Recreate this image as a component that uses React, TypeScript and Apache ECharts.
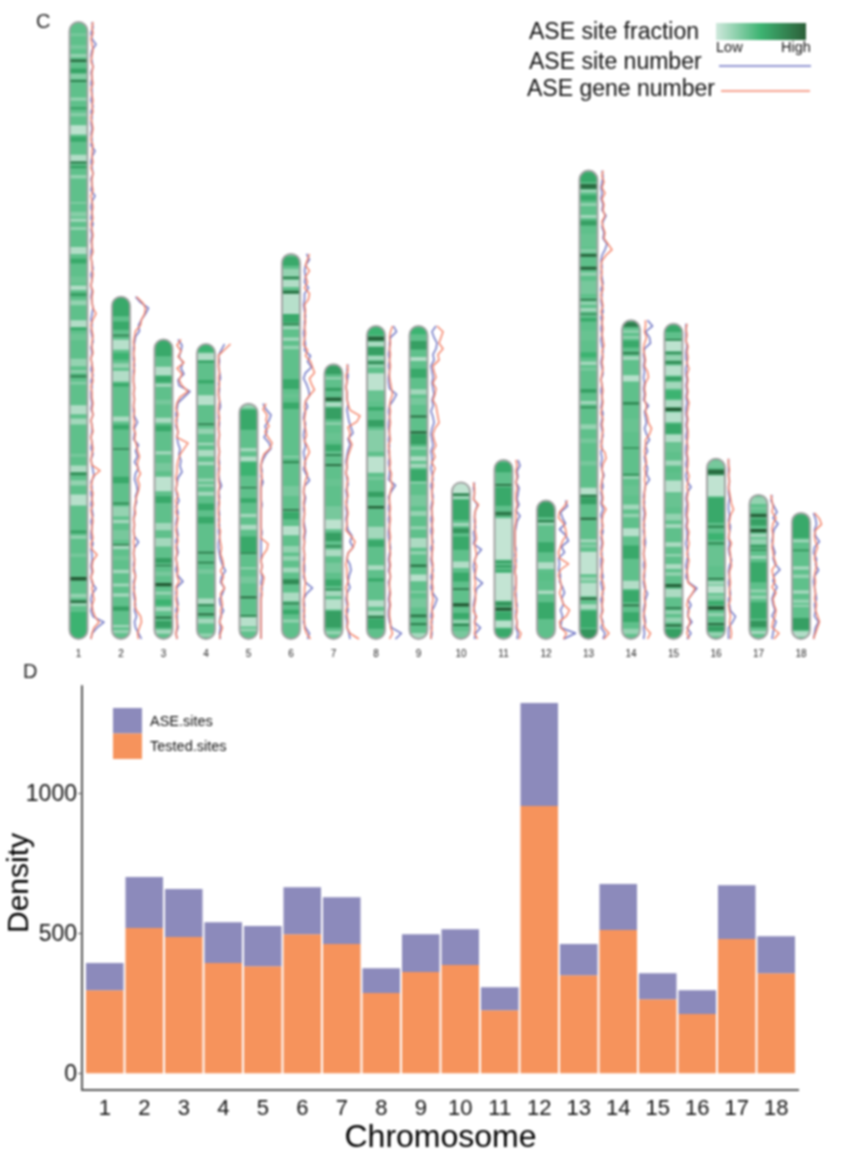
import React, { useEffect, useRef } from "react";
import * as echarts from "echarts";

const chromosomes = ["1","2","3","4","5","6","7","8","9","10","11","12","13","14","15","16","17","18"];
// chromosome lengths, Mb
const lengths = [274,152,133,131,104.5,171,122,139,139,69.5,79.5,61.5,208,141.5,140,80,64,56];

// D panel
const testedSites = [296,518,486,393,382,496,461,286,361,386,225,954,350,511,264,211,479,357];
const aseSites = [97,182,171,146,143,168,167,89,135,128,82,367,111,164,93,85,192,132];

// bands per chromosome: [start Mb from the top, end Mb, ASE site fraction 0..1]
type Band = number[];
const bands1: Band[] = [[5,6.3,.3],[10.2,12,.3],[14.2,15.7,.2],[16.6,17.8,.85],[20.6,22.8,.58],[23,25.2,.25],[25.8,26.7,.75],[33.5,35,.2],[37.9,38.8,.6],[40.3,42,.25],[45.8,50,.06],[51,53.2,.55],[59,61.8,.1],[62,62.8,.8],[63.8,65,.6],[68,69.5,.2],[80,80.6,.2],[84.3,86.5,.25],[87.3,88.7,.15],[91,92.4,.2],[99.9,103,.1],[105,107.3,.55],[113,116,.33],[117,119,.1],[120.3,121.8,.6],[123.6,125.8,.2],[132.4,135.4,.1],[135.7,136.9,.55],[138.4,141.3,.33],[149.5,152.9,.2],[154.7,155.8,.2],[156.9,157.9,.75],[159.8,161,.25],[170.2,174.2,.1],[176.1,178.7,.15],[191.7,193.2,.3],[196.9,199.8,.12],[200.1,201.3,.7],[203.5,205.8,.2],[209.8,214.7,.08],[225.8,227,.6],[228,229.5,.2],[236,237.6,.3],[246.5,248,.95],[253.9,255.7,.2],[256.9,258,.85],[258,259.5,.2],[262,274,.5]];
const bands2: Band[] = [[0,8.7,.55],[11,14.7,.55],[16.9,17.6,.8],[19.1,23.6,.08],[25,28,.5],[29.5,31.7,.2],[32.9,37.6,.1],[38.4,39.9,.55],[53.2,55.4,.12],[56.9,59,.55],[67.3,68,.75],[79.9,82.8,.55],[91.4,92.3,.7],[93.2,97.6,.2],[99,100.6,.15],[103.6,108,.3],[109.8,110.5,.8],[110.6,112.1,.15],[115,117,.33],[121.2,122.8,.15],[127.3,128.7,.15],[131.7,133.2,.15],[137.6,139.4,.6],[145.8,146.8,.15],[148,149.5,.2]];
const bands3: Band[] = [[0,7.4,.55],[12.1,15.9,.1],[16.3,19,.55],[19.7,21,.15],[26.7,28.9,.3],[34.8,37,.12],[38.2,40.7,.55],[49.6,51.1,.15],[54.8,58.5,.3],[61,67.4,.06],[69.6,72.6,.55],[81.5,84.7,.15],[88.1,91.9,.15],[97,99.3,.6],[100,100.7,.75],[103,105,.3],[108.1,109.6,.95],[111.9,113.3,.2],[115.5,118,.5],[118.8,120.7,.15],[123,124,.8],[125,128,.6],[128.9,130.7,.15]];
const bands4: Band[] = [[.4,3.4,.5],[4.1,7.1,.1],[7.4,8.3,.6],[16,17.5,.55],[22.7,27.1,.08],[35.3,36,.8],[37.5,40,.2],[43.9,45,.15],[47.1,50,.12],[52.3,53.8,.15],[59.7,61.2,.2],[62.2,63.4,.2],[65.6,67.4,.15],[70.8,73.8,.55],[76.7,79.7,.55],[92.3,93,.8],[96.7,97.5,.75],[100,102,.3],[113,115.3,.12],[115.7,116.4,.8],[119.7,120.4,.9],[121.9,124.1,.15],[128.6,130,.2]];
const bands5: Band[] = [[.4,2,.2],[2.7,11.6,.55],[19.7,21.2,.15],[23.4,25.6,.1],[26,32,.5],[37,37.6,.8],[42,44,.55],[48.9,50.4,.15],[53.8,56,.12],[59,66.1,.55],[66.1,66.8,.75],[72.6,73.5,.2],[76.7,79.7,.3],[85.6,86.4,.9],[93.8,94.5,.8],[94.8,99,.08],[99.7,101.2,.2]];
const bands6: Band[] = [[1.3,5.3,.55],[6.7,9.8,.2],[10.2,10.9,.85],[11.6,14.7,.1],[16.4,17.6,.85],[17.8,26.7,.08],[26.7,30.4,.55],[30.9,31.5,.85],[32.2,33.4,.15],[37.1,38.6,.15],[40.8,42.3,.2],[55.6,60,.55],[62,64,.35],[66,68.9,.55],[89.7,90.4,.2],[91.9,92.9,.7],[103,107.5,.3],[113.4,114.1,.85],[114.6,117.8,.55],[120.8,124.9,.08],[129.7,132.6,.2],[134.1,136.3,.2],[139.3,141.5,.15],[144.5,146.7,.7],[150.4,154.1,.12],[154.9,155.6,.8],[158,160,.55],[162.3,163.7,.2]];
const bands7: Band[] = [[.7,4.4,.6],[5.9,6.7,.15],[10.4,11.9,.6],[14.8,16.3,.9],[17,18.8,.1],[19.3,24.4,.6],[25.9,26.8,.2],[30.4,34,.35],[35.6,38.5,.55],[40,40.7,.75],[44.4,45.2,.9],[51,54,.35],[63,68.9,.3],[68.9,73.3,.06],[74.8,78.5,.6],[80.4,81.3,.7],[82.2,85.2,.12],[88.1,92.6,.3],[95.6,98.5,.55],[99.7,100.3,.7],[100.7,103,.15],[104.4,108.9,.08],[109.6,117,.6],[118.5,120,.2]];
const bands8: Band[] = [[.3,4,.5],[4.7,6.5,.9],[7,9.2,.12],[9.2,12.9,.6],[13.3,15.1,.15],[15.9,16.6,.8],[17.3,18.4,.2],[21,28.7,.06],[29.2,33.6,.35],[36,37.5,.55],[41.8,44.7,.6],[46.2,55.9,.25],[58,65.2,.06],[67,68.4,.3],[73.6,75.9,.6],[79.9,81,.9],[89.2,94.4,.15],[95.1,98,.55],[106.2,108.4,.12],[112,113.5,.55],[121.8,124.7,.1],[126.5,128.4,.15],[128.9,129.6,.9],[130,134.4,.55]];
const bands9: Band[] = [[.7,3.7,.5],[6.7,10.4,.6],[13.8,15.6,.1],[19,23,.55],[28.1,30.4,.15],[32,35,.3],[39.7,40.6,.85],[46.7,47.7,.9],[48.1,52.6,.6],[53.8,54.8,.2],[57.8,60,.12],[61.2,63,.15],[63.7,68.9,.55],[69.2,70,.2],[75,80,.3],[82.2,84.4,.2],[88.9,90.4,.2],[94.1,98.5,.12],[100,101.5,.2],[105.9,107,.8],[110.4,113.3,.08],[117.8,118.5,.2],[121,125,.3],[128.1,129.3,.8],[131.9,132.9,.75],[136.3,139,.15]];
const bands10: Band[] = [[0,4.7,.05],[5,5.8,.85],[6.2,7.3,.15],[7.7,16.6,.55],[18,19.3,.15],[20.3,22.5,.65],[24,29.9,.55],[35.1,38,.1],[40,44,.55],[47,47.7,.8],[53.6,55.1,.95],[58,60.5,.55],[61.3,62.2,.15],[62.8,63.7,.75],[66,69,.3]];
const bands11: Band[] = [[1,5.5,.55],[10.7,11.4,.85],[12.1,20.3,.55],[23,24.7,.8],[25.9,44.3,.04],[44.7,45.8,.6],[46.7,47.7,.6],[48.7,49.6,.55],[50.2,62.5,.04],[63,64.7,.65],[65.5,67,.95],[67.4,71,.55],[71.4,74.4,.08],[75,78.5,.55]];
const bands12: Band[] = [[.7,7.4,.6],[8.6,9.6,.75],[9.9,11.1,.2],[18.5,23,.55],[27.4,30.4,.1],[32,35.5,.4],[40,41.5,.12],[45.2,52.6,.55]];
const bands13: Band[] = [[.7,5.2,.55],[5.9,8,.85],[8.6,9.6,.15],[10.8,13.3,.55],[14.5,15.7,.2],[19.7,21,.15],[22.2,24.4,.6],[28,34,.35],[34.8,36.3,.25],[37,38.2,.9],[42.7,44,.9],[45.2,46.7,.2],[48.9,54.8,.3],[57,57.6,.9],[58.2,59.6,.2],[61,62.6,.15],[63.4,64,.75],[65.5,67,.55],[71,75.6,.35],[80.7,83,.5],[84.8,86.3,.15],[87.4,88.9,.3],[97,98.6,.6],[102.3,103.7,.15],[104.8,105.5,.7],[112.6,114.9,.2],[119,121,.3],[129,131,.3],[140.8,143.7,.08],[144,144.8,.85],[145.2,148.2,.6],[154.1,155,.9],[163.7,165.2,.15],[166,167.4,.25],[169.2,179.3,.05],[180.5,182.3,.2],[183,189,.08],[189.7,190.5,.95],[192.6,194.8,.12],[195.6,203,.55],[203.7,208,.65]];
const bands14: Band[] = [[.7,3,.75],[4.4,5.5,.2],[7,8.1,.2],[9,12,.55],[14,15,.75],[15.9,17.6,.15],[24.4,27.1,.08],[36.3,37.5,.7],[43.7,49.6,.35],[56.3,57,.7],[68.1,68.9,.7],[69.2,70.4,.2],[73.3,77.8,.35],[81.8,84,.15],[85.9,87.4,.2],[92.3,95.9,.08],[100,105.9,.55],[115.6,119.3,.1],[120,125.2,.55],[126.2,127,.85],[129.6,134,.55],[137,139.3,.2]];
const bands15: Band[] = [[.7,3.7,.55],[6.8,7.4,.75],[7.7,12.1,.06],[12.7,13.3,.75],[14,16.3,.2],[16.6,17.8,.7],[18.5,23,.08],[23.7,25.2,.6],[25.9,28.9,.15],[29.6,33.3,.5],[34,37,.12],[37.3,38.8,.95],[39.3,43.7,.08],[44.4,48.9,.55],[49.2,52.6,.1],[52.6,57,.35],[60.7,63,.15],[63.7,66,.4],[69.6,74.8,.08],[75.5,81.5,.35],[84.4,87.4,.2],[88.9,90.7,.15],[97,99,.12],[102.2,103.4,.2],[106.7,108.9,.12],[110.4,111.9,.2],[115.6,117,.9],[117.8,121.5,.12],[125.9,126.7,.8],[127.4,128.9,.2],[130.4,132.6,.2],[133.6,134.5,.9],[135.6,139.3,.6]];
const bands16: Band[] = [[1,4,.3],[4.7,7,.85],[7.4,16.6,.05],[17.3,28.4,.55],[29.6,30.7,.7],[33,36,.5],[37,38,.7],[39,47.7,.35],[52.9,53.6,.85],[54.4,55.9,.15],[56.3,59.6,.06],[60.3,62.5,.25],[63.3,64.8,.55],[65.5,67,.95],[68.4,69.9,.2],[72.9,73.9,.85],[74.3,76.6,.6],[77,78.8,.2]];
const bands17: Band[] = [[1,4,.2],[5.5,6.5,.3],[8.4,9.9,.9],[10.7,13.6,.6],[15.1,16.6,.95],[17.3,18.8,.15],[19.6,21.8,.2],[22.5,23.3,.7],[24.1,24.8,.7],[27,28.4,.15],[29.9,38.8,.55],[42,43.3,.2],[44.7,46.2,.2],[47.7,55,.55],[55.9,58.8,.65],[60.3,61.8,.15]];
const bands18: Band[] = [[.7,11.1,.55],[11.9,13,.15],[16.3,17,.65],[23.7,25.2,.15],[27.4,28.9,.2],[34.4,35.9,.15],[38.5,40,.2],[40.8,41.8,.2],[46.7,51.9,.6],[52.6,55,.1]];
const allBands = [bands1,bands2,bands3,bands4,bands5,bands6,bands7,bands8,bands9,bands10,bands11,bands12,bands13,bands14,bands15,bands16,bands17,bands18];

// ASE site number along each chromosome, evenly spaced from top to bottom
const sites1 = [2,3,1,2,6,2,1,2,3,1,2,1,2,2,1,3,1,2,1,2,1,2,1,5,2,1,2,3,1,2,1,5,2,1,2,1,3,1,2,1,2,1,1,2,3,1,2,1,2,1,2,3,2,1,2,1,2,3,1,2,1,2,1,3,1,2,1,1,2,1,3,1,2,2,1,2,1,3,1,2,3,4,1,2,1,2,1,2,3,1,2,1,1,3,1,2,2,1,2,1,2,6,2,1,2,1,3,14,7,2,1];
const sites2 = [3,8,16,13,9,6,7,3,2,1,1,1,2,1,1,1,2,1,2,1,1,2,5,2,2,1,6,3,5,2,6,3,2,4,5,3,4,2,2,1,2,1,2,6,2,1,2,1,2,3,1,2,1,2,3,2,4,2,3,6,9];
const sites3 = [3,7,6,4,8,6,9,3,4,15,9,3,2,1,2,1,3,2,3,5,4,6,5,7,3,2,1,2,4,1,3,2,1,2,3,1,2,3,1,2,1,3,8,2,1,2,3,1,2,2,3,1,2];
const sites4 = [7,4,1,2,1,2,3,1,2,1,2,3,1,1,2,1,2,1,1,2,1,2,1,1,2,4,1,2,1,1,2,1,2,1,2,1,1,2,3,5,8,4,3,7,5,2,3,6,3,2,3,2,3];
const sites5 = [3,6,11,9,5,7,4,9,11,6,3,1,2,1,3,1,1,1,2,1,1,1,1,2,1,1,1,1,1,2,1,2,1,2,1,1,1,1,1,1,1,1,1];
const sites6 = [4,7,3,2,3,2,6,2,2,1,2,3,2,2,1,2,3,2,8,5,9,3,1,4,6,7,3,5,2,1,3,2,1,2,3,1,2,3,1,4,7,2,1,3,2,1,2,1,2,3,2,2,1,2,1,2,2,1,3,10,4,1,2,1,2,1,3,7,5];
const sites7 = [3,2,3,2,1,2,2,3,2,3,4,6,8,3,5,3,2,1,2,1,2,3,1,2,2,1,2,1,2,3,7,5,8,3,2,5,6,4,3,5,2,1,2,3,1,2,2,4,5];
const sites8 = [6,9,3,2,2,1,2,1,2,1,1,2,9,6,2,1,2,1,1,2,1,2,1,2,1,2,2,1,8,4,1,2,1,2,1,2,1,1,2,3,2,1,2,1,3,1,2,2,1,2,1,1,2,4,14,8];
const sites9 = [6,2,4,7,6,3,4,1,2,3,2,3,4,2,3,1,3,4,2,1,2,3,1,2,2,1,2,3,1,2,3,2,1,2,1,2,1,2,3,1,2,1,2,3,1,2,1,3,7,5,2,1,2,1,2,1];
const sites10 = [2,1,2,1,5,3,2,2,3,1,2,1,9,4,2,1,2,3,10,4,3,2,1,2,3,2,8,3,2];
const sites11 = [3,5,2,3,1,4,3,2,4,1,5,2,1,0,0,0,1,0,1,0,0,1,1,0,1,1,2,1,1,2,1,3,2];
const sites12 = [8,10,3,5,8,2,8,11,4,7,1,2,1,3,2,5,7,4,6,3,5,4,3,18,6];
const sites13 = [2,3,2,1,2,1,3,2,6,3,2,4,3,7,5,2,1,2,1,2,3,1,2,1,2,3,1,2,1,2,1,2,3,2,1,2,3,1,2,1,2,2,1,3,2,1,2,3,1,2,1,2,1,2,4,2,3,1,2,1,3,1,2,2,3,1,2,1,2,1,1,2,3,1,2,3,1,2,2,1,3,1,5,3];
const sites14 = [5,10,3,7,8,2,1,2,1,2,1,2,1,2,1,6,2,3,4,2,4,7,3,5,2,3,5,4,7,3,2,1,2,1,2,1,2,1,2,3,2,1,2,1,2,2,1,2,5,3,2,1,2,3,1,2,1];
const sites15 = [1,1,1,1,2,1,1,2,1,1,2,1,2,1,2,1,1,2,1,2,1,2,1,1,2,1,2,1,2,6,2,1,2,1,1,2,1,2,2,1,2,3,2,1,2,1,4,12,7,3,6,3,3,7,2,6,2];
const sites16 = [1,1,1,1,2,1,1,2,1,1,2,1,3,2,1,2,1,2,4,2,1,2,1,2,3,1,2,3,8,5,1,1,1];
const sites17 = [2,1,4,7,3,8,4,3,2,3,5,3,5,10,4,3,7,4,2,3,5,2,6,4,3,2];
const sites18 = [1,3,4,2,3,7,2,1,4,3,6,2,1,2,3,4,2,3,2,6,3,2,1];
const allSites = [sites1,sites2,sites3,sites4,sites5,sites6,sites7,sites8,sites9,sites10,sites11,sites12,sites13,sites14,sites15,sites16,sites17,sites18];

// ASE gene number along each chromosome
const genes1 = [3,2,3,1,2,3,2,1,3,2,2,3,1,2,3,2,3,1,2,3,2,1,3,2,2,3,1,3,2,2,3,1,2,3,2,3,1,2,3,2,2,3,1,2,2,3,2,1,3,2,2,3,6,3,1,2,3,2,2,3,1,2,3,2,3,1,2,2,3,2,3,1,2,3,1,2,3,2,1,2,10,3,2,1,3,2,3,1,2,3,2,2,3,1,2,7,3,2,3,1,3,2,3,4,2,3,5,9,4,2,1];
const genes2 = [4,10,13,12,9,8,3,2,1,2,1,2,1,2,1,1,2,1,2,1,2,1,2,1,3,2,4,5,7,5,5,8,5,7,6,4,3,2,3,1,2,1,2,1,2,1,2,2,1,3,2,1,2,3,2,4,8,9,7,5,6];
const genes3 = [6,2,6,3,9,2,7,4,7,13,5,2,1,3,1,2,3,2,13,9,5,3,2,2,1,2,1,3,1,2,1,3,2,1,2,3,1,2,1,2,3,2,4,1,2,1,2,3,1,2,2,1,2];
const genes4 = [13,7,1,1,1,2,1,2,1,1,2,1,1,2,1,1,2,1,1,2,1,1,2,1,1,2,1,1,2,1,1,2,1,3,2,3,4,3,5,6,3,6,4,7,3,4,5,3,4,2,5,3,2];
const genes5 = [6,3,7,6,9,5,8,12,10,4,2,1,1,2,1,1,1,1,1,1,1,1,1,1,1,8,7,3,1,2,1,4,3,1,2,1,1,1,1,1,1,1,1];
const genes6 = [7,5,3,7,3,5,2,7,6,2,3,2,3,2,3,2,1,5,3,8,10,12,7,9,12,7,3,2,3,2,2,3,4,2,5,7,4,2,3,5,3,2,1,2,1,2,2,1,1,2,1,2,1,2,2,1,1,2,3,2,2,1,1,2,1,2,2,4,8];
const genes7 = [2,3,1,2,1,2,2,3,5,15,12,3,5,4,7,5,3,2,2,1,3,2,2,3,1,2,3,2,2,1,6,10,8,3,2,1,2,2,3,1,2,2,3,1,2,3,2,5,14];
const genes8 = [5,3,2,3,2,3,2,3,2,2,3,4,5,3,2,3,2,3,2,2,3,1,2,2,3,2,4,3,5,3,2,2,3,2,3,2,2,3,2,2,3,2,3,2,3,2,2,3,2,3,2,2,3,3,5,2];
const genes9 = [7,13,11,9,13,8,9,3,4,6,3,6,5,3,6,7,8,9,5,3,4,6,3,5,2,5,3,2,3,2,2,3,2,2,3,2,3,2,2,3,2,2,3,2,3,2,3,2,3,2,2,3,1,2,1,1];
const genes10 = [1,2,2,1,6,3,2,3,2,3,4,2,3,4,2,4,3,2,3,2,3,3,2,1,4,2,3,2,5];
const genes11 = [1,2,1,2,1,2,1,1,2,1,1,1,0,0,0,0,0,1,0,1,0,1,1,1,0,1,1,2,1,2,2,6,4];
const genes12 = [10,7,2,1,6,8,9,5,3,1,2,11,3,1,3,4,2,4,6,12,9,2,3,9,6];
const genes13 = [3,2,4,2,5,2,4,3,5,2,3,5,4,8,12,6,2,1,2,1,2,3,1,2,3,1,3,2,3,2,3,4,2,3,2,3,2,1,2,3,2,3,2,1,3,2,3,2,2,1,5,6,3,2,3,2,1,2,3,2,6,3,2,3,1,2,3,2,1,3,2,2,1,3,4,2,3,2,3,1,2,4,9,4];
const genes14 = [3,3,2,4,2,1,2,3,2,5,6,3,2,3,2,4,3,5,6,9,7,3,3,2,3,4,2,3,2,3,2,2,1,2,3,2,1,2,2,1,2,1,2,3,2,1,2,3,2,2,3,2,1,2,3,8,5];
const genes15 = [2,1,2,1,3,2,3,2,4,2,3,2,3,2,4,3,2,3,2,3,3,2,3,2,3,3,2,4,3,2,3,2,3,3,2,3,2,4,3,4,3,2,4,3,2,3,3,10,7,3,2,4,3,5,3,2,4];
const genes16 = [1,1,2,1,2,1,2,3,4,6,3,2,1,2,1,4,2,3,3,4,2,2,3,2,2,3,1,2,3,2,3,4,3];
const genes17 = [1,2,3,2,6,3,2,3,3,2,3,4,6,2,3,5,2,6,3,4,6,5,3,2,9,4];
const genes18 = [2,7,9,3,2,3,5,3,2,4,3,2,3,2,3,2,4,3,5,7,5,3,1];
const allGenes = [genes1,genes2,genes3,genes4,genes5,genes6,genes7,genes8,genes9,genes10,genes11,genes12,genes13,genes14,genes15,genes16,genes17,genes18];

const BASE_FRACTION = 0.38;
const FRACTION_STOPS = ["#cfe8dc", "#3cb371", "#1f4f2c"];
const SITE_COLOR = "#6f75c4";
const GENE_COLOR = "#f4846a";
const TEXT = "#111111";
const FONT = "Liberation Sans";

const fractionColor = (f: number) => echarts.color.lerp(f, FRACTION_STOPS) as string;

const renderChromosome = (params: any, api: any) => {
  const i = api.value(0) as number;
  const len = lengths[i];
  const top = api.coord([i, len]);
  const bottom = api.coord([i, 0]);
  const w = 18;
  const x = top[0] - w / 2;
  const outline = { x, y: top[1], width: w, height: bottom[1] - top[1], r: 9 };
  const children: any[] = [
    { type: "rect", shape: { x, y: top[1], width: w, height: outline.height }, style: { fill: fractionColor(BASE_FRACTION) } },
  ];
  allBands[i].forEach((b) => {
    const y0 = api.coord([i, len - b[0]])[1];
    const y1 = api.coord([i, len - b[1]])[1];
    children.push({ type: "rect", shape: { x, y: y0, width: w, height: y1 - y0 }, style: { fill: fractionColor(b[2]) } });
  });
  return {
    type: "group",
    children: [
      { type: "group", clipPath: { type: "rect", shape: outline }, children },
      { type: "rect", shape: outline, style: { fill: "none", stroke: "#a3a3a3", lineWidth: 2 } },
    ],
  };
};

const traceRenderer = (source: number[][], color: string) => (params: any, api: any) => {
  const i = api.value(0) as number;
  const values = source[i];
  const len = lengths[i];
  const points = values.map((v, k) => {
    const p = api.coord([i, len - (k * len) / (values.length - 1)]);
    return [p[0] + 11.5 + v, p[1]];
  });
  return { type: "polyline", shape: { points }, style: { fill: "none", stroke: color, lineWidth: 1.5, lineJoin: "round" } };
};

const chromosomeRows = chromosomes.map((_, i) => [i, 0]);

export default function App() {
  const ref = useRef<HTMLDivElement>(null);
  useEffect(() => {
    document.body.style.margin = "0";
    const chart = echarts.init(ref.current!, undefined, { renderer: "svg" });
    const hidden = { show: false };
    const plain = (v: number) => String(v);
    chart.setOption({
      animation: false,
      backgroundColor: "#ffffff",
      textStyle: { fontFamily: FONT },
      grid: [
        { left: 57.25, top: 22, width: 765, height: 617, outerBoundsMode: "none" },
        { left: 85, top: 686, width: 711, height: 404, outerBoundsMode: "none" },
      ],
      xAxis: [
        {
          gridIndex: 0, type: "category", data: chromosomes, boundaryGap: true,
          axisLine: hidden, axisTick: hidden,
          axisLabel: { interval: 0, fontSize: 10, color: "#222", margin: 9, fontFamily: FONT },
        },
        {
          gridIndex: 1, type: "category", data: chromosomes, boundaryGap: true,
          axisLine: { onZero: false, lineStyle: { color: "#555", width: 2 } },
          axisTick: { length: 4, lineStyle: { color: "#555", width: 1 }, alignWithLabel: true },
          axisLabel: { interval: 0, fontSize: 22, color: TEXT, margin: 6, fontFamily: FONT },
          name: "Chromosome", nameLocation: "middle", nameGap: 30, nameMoveOverlap: false,
          nameTextStyle: { fontSize: 32, color: "#000", fontFamily: FONT },
        },
      ],
      yAxis: [
        { gridIndex: 0, type: "value", min: 0, max: 274, show: false },
        {
          gridIndex: 1, type: "value", min: -60, max: 1382, offset: 3, splitLine: hidden,
          axisLine: { show: true, onZero: false, lineStyle: { color: "#555", width: 2 } },
          axisTick: { show: true, length: 4, lineStyle: { color: "#555" }, customValues: [0, 500, 1000] },
          axisLabel: { fontSize: 23, color: TEXT, margin: 5, fontFamily: FONT, customValues: [0, 500, 1000], formatter: plain },
          name: "Density", nameLocation: "middle", nameGap: 50, nameMoveOverlap: false,
          nameTextStyle: { fontSize: 30, color: "#000", fontFamily: FONT, padding: [0, 0, 0, 10] },
        },
      ],
      legend: {
        orient: "vertical", left: 113, top: 708, padding: 0, itemWidth: 29, itemHeight: 25.5, itemGap: 0,
        icon: "rect", selectedMode: false, data: ["ASE.sites", "Tested.sites"],
        textStyle: { fontSize: 14.5, color: TEXT, fontFamily: FONT, padding: [0, 0, 0, 3] },
      },
      series: [
        { type: "custom", name: "chromosomes", xAxisIndex: 0, yAxisIndex: 0, clip: false, data: chromosomeRows, renderItem: renderChromosome, encode: { x: 0, y: 1 } },
        { type: "custom", name: "ASE site number", xAxisIndex: 0, yAxisIndex: 0, clip: false, data: chromosomeRows, renderItem: traceRenderer(allSites, SITE_COLOR), encode: { x: 0, y: 1 } },
        { type: "custom", name: "ASE gene number", xAxisIndex: 0, yAxisIndex: 0, clip: false, data: chromosomeRows, renderItem: traceRenderer(allGenes, GENE_COLOR), encode: { x: 0, y: 1 } },
        { type: "bar", name: "Tested.sites", xAxisIndex: 1, yAxisIndex: 1, stack: "sites", data: testedSites, barWidth: "95%", itemStyle: { color: "#f6935c" } },
        { type: "bar", name: "ASE.sites", xAxisIndex: 1, yAxisIndex: 1, stack: "sites", data: aseSites, barWidth: "95%", itemStyle: { color: "#8c8abb" } },
      ],
      graphic: [
        { type: "text", left: 36, top: 11, style: { text: "C", fontSize: 20, fill: "#222", fontFamily: FONT } },
        { type: "text", left: 23, top: 661, style: { text: "D", fontSize: 20, fill: "#222", fontFamily: FONT } },
        { type: "text", left: 529, top: 19, style: { text: "ASE site fraction", fontSize: 23, fill: TEXT, fontFamily: FONT } },
        { type: "text", left: 529, top: 49, style: { text: "ASE site number", fontSize: 23, fill: TEXT, fontFamily: FONT } },
        { type: "text", left: 527, top: 76, style: { text: "ASE gene number", fontSize: 23, fill: TEXT, fontFamily: FONT } },
        {
          type: "rect", left: 716, top: 23, shape: { width: 90, height: 17 },
          style: {
            fill: new echarts.graphic.LinearGradient(0, 0, 1, 0, [
              { offset: 0, color: FRACTION_STOPS[0] },
              { offset: 0.5, color: FRACTION_STOPS[1] },
              { offset: 1, color: "#2c5e38" },
            ]),
          },
        },
        { type: "text", left: 716, top: 39, style: { text: "Low", fontSize: 14.5, fill: TEXT, fontFamily: FONT } },
        { type: "text", left: 781, top: 39, style: { text: "High", fontSize: 14.5, fill: TEXT, fontFamily: FONT } },
        { type: "line", shape: { x1: 719, y1: 66, x2: 811, y2: 66 }, style: { stroke: SITE_COLOR, lineWidth: 1.5 } },
        { type: "line", shape: { x1: 721, y1: 91, x2: 810, y2: 91 }, style: { stroke: GENE_COLOR, lineWidth: 1.5 } },
        { type: "line", shape: { x1: 81, y1: 1090, x2: 85, y2: 1090 }, style: { stroke: "#555", lineWidth: 2 } },
        { type: "line", shape: { x1: 796, y1: 1090, x2: 799, y2: 1090 }, style: { stroke: "#555", lineWidth: 2 } },
      ],
    });
    return () => chart.dispose();
  }, []);
  return <div ref={ref} style={{ width: 864, height: 1153, filter: "blur(0.8px)" }} />;
}
